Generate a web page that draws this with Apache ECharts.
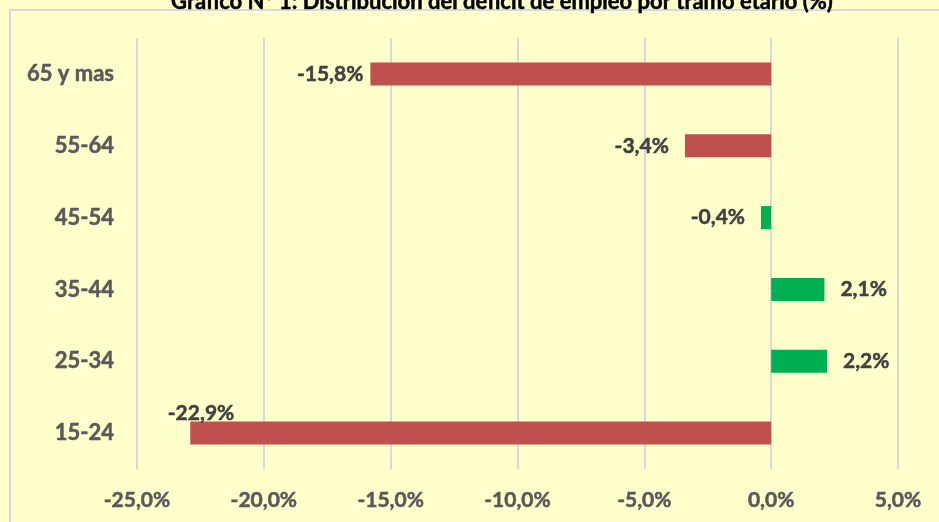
<!DOCTYPE html>
<html>
<head>
<meta charset="utf-8">
<script src="https://cdn.jsdelivr.net/npm/echarts@6/dist/echarts.min.js"></script>
<style>
html,body{margin:0;padding:0;background:#FFFFCC;}
#chart{width:939px;height:522px;}
</style>
</head>
<body>
<div id="chart"></div>
<script>
// Data (bottom to top)
const categories = ['15-24', '25-34', '35-44', '45-54', '55-64', '65 y mas'];
const values = [-22.9, 2.2, 2.1, -0.4, -3.4, -15.8];
const barColors = ['#C0504D', '#00B050', '#00B050', '#00B050', '#C0504D', '#C0504D'];
const xTicks = { min: -25, max: 5, interval: 5 };
const titleText = 'Gráfico N° 1: Distribución del déficit de empleo por tramo etario (%)';

const fmt = v => v.toFixed(1).replace('.', ',') + '%';
const FONT = 'Lato';

const data = values.map((v, i) => {
  const item = { value: v, itemStyle: { color: barColors[i] } };
  let label = { position: v < 0 ? 'left' : 'right', distance: 16 };
  if (i === 0) label = { position: 'left', distance: 5, offset: [49, -20] };
  if (i === 5) label = { position: 'left', distance: 7 };
  item.label = label;
  return item;
});

const chart = echarts.init(document.getElementById('chart'));
chart.setOption({
  backgroundColor: '#FFFFCC',
  animation: false,
  grid: { left: 137, right: 41, top: 38, bottom: 53, containLabel: false },
  xAxis: {
    type: 'value',
    min: xTicks.min, max: xTicks.max, interval: xTicks.interval,
    axisLine: { show: false },
    axisTick: { show: false },
    splitLine: { show: true, lineStyle: { color: '#D9D9D9', width: 2 } },
    axisLabel: {
      formatter: fmt, margin: 21,
      fontFamily: FONT, fontWeight: 'bold', fontSize: 21, color: '#595959',
      textBorderColor: '#595959', textBorderWidth: 0.5
    }
  },
  yAxis: {
    type: 'category',
    data: categories,
    axisLine: { show: false, onZero: false },
    axisTick: { show: false },
    axisLabel: {
      margin: 23,
      fontFamily: FONT, fontWeight: 'bold', fontSize: 22, color: '#595959',
      textBorderColor: '#595959', textBorderWidth: 0.5
    }
  },
  series: [{
    type: 'bar',
    data: data,
    barWidth: 23,
    label: {
      show: true,
      formatter: p => fmt(p.value),
      fontFamily: FONT, fontWeight: 'bold', fontSize: 21, color: '#404040',
      textBorderColor: '#404040', textBorderWidth: 0.5
    }
  }],
  graphic: [
    {
      type: 'rect', silent: true, z: -1,
      shape: { x: 10, y: 10, width: 960, height: 560 },
      style: { fill: null, stroke: '#D9D9D9', lineWidth: 2 }
    },
    {
      type: 'text', x: 502, y: 2,
      style: {
        text: titleText, align: 'center', verticalAlign: 'middle',
        font: 'bold 22px Lato', fill: '#000000',
        stroke: '#000000', lineWidth: 0.5
      }
    }
  ]
});
</script>
</body>
</html>
